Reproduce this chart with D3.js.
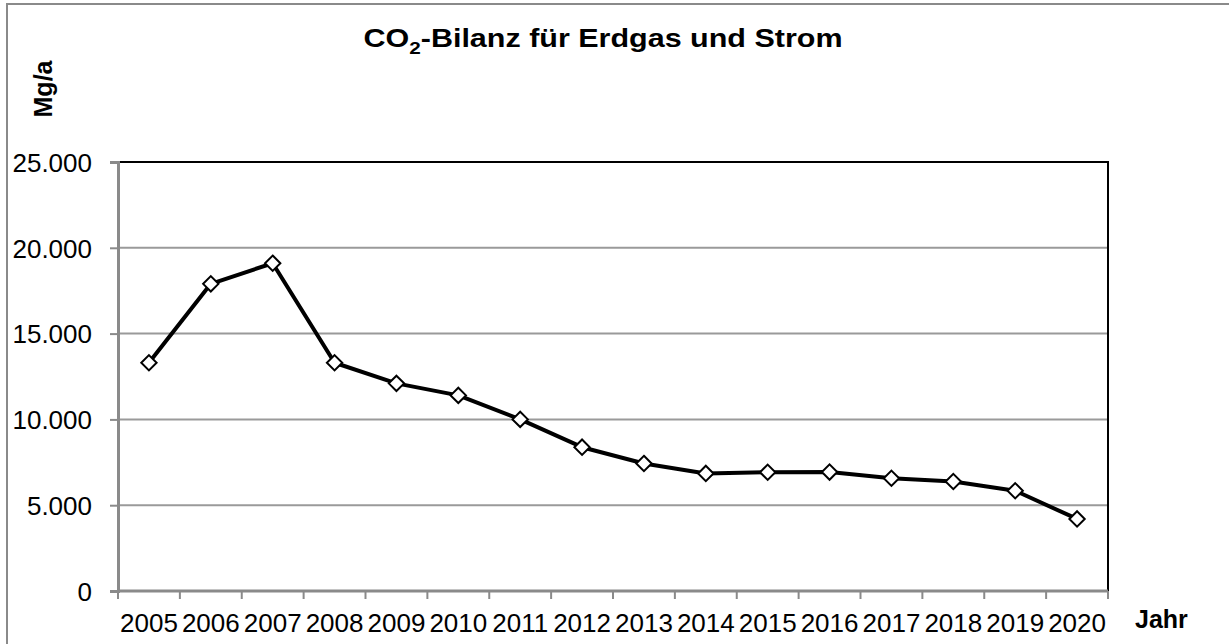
<!DOCTYPE html>
<html>
  <head>
    <meta charset="utf-8">
    <script src="https://d3js.org/d3.v7.min.js"></script>
    <title>CO2-Bilanz</title>
    <style>
      body { margin: 0px; background: #fff; }
      text { font-family: 'Liberation Sans', Arial, sans-serif; fill: #000; }
      .tick text { font-size: 26px; }
      .axis-label, .title { font-size: 25px; font-weight: bold; }
    </style>
  </head>
  <body>
    <svg width="1229" height="644"></svg>
    <script>
      const years = ['2005', '2006', '2007', '2008', '2009', '2010', '2011', '2012',
                     '2013', '2014', '2015', '2016', '2017', '2018', '2019', '2020'];
      const co2 = [13300, 17900, 19100, 13300, 12100, 11400, 10000, 8380,
                   7430, 6850, 6920, 6930, 6570, 6380, 5840, 4200];
      const yTicks = [0, 5000, 10000, 15000, 20000, 25000];

      const data = years.map((y, i) => ({ year: y, value: co2[i] }));

      const plot = { left: 118, right: 1108, top: 162, bottom: 591 };

      const svg = d3.select('svg');

      // chart frame (only top and left visible)
      svg.append('path')
          .attr('d', 'M7,650 V4 H1240')
          .attr('fill', 'none')
          .attr('stroke', '#8a8a8a')
          .attr('stroke-width', 2);

      const de = d3.formatLocale({ decimal: ',', thousands: '.', grouping: [3], currency: ['', ' €'] });

      const xScale = d3.scaleBand()
          .domain(years)
          .range([plot.left, plot.right])
          .padding(0);

      const yScale = d3.scaleLinear()
          .domain([0, 25000])
          .range([plot.bottom, plot.top]);

      // gridlines
      svg.append('g').selectAll('line')
          .data(yTicks.filter(d => d > 0 && d < 25000))
          .enter().append('line')
            .attr('x1', plot.left)
            .attr('x2', plot.right)
            .attr('y1', d => yScale(d))
            .attr('y2', d => yScale(d))
            .attr('stroke', '#9a9a9a')
            .attr('stroke-width', 2);

      // top and right border of plot area
      svg.append('path')
          .attr('d', `M${plot.left},${plot.top} H${plot.right} V${plot.bottom}`)
          .attr('fill', 'none')
          .attr('stroke', '#000')
          .attr('stroke-width', 2);

      // y axis
      const yAxis = d3.axisLeft(yScale)
          .tickValues(yTicks)
          .tickSize(8)
          .tickPadding(18)
          .tickFormat(de.format(',d'));

      const yAxisG = svg.append('g')
          .attr('transform', `translate(${plot.left},0)`)
          .call(yAxis);
      yAxisG.select('.domain').attr('stroke', '#8a8a8a').attr('stroke-width', 3);
      yAxisG.selectAll('.tick line').attr('stroke', '#8a8a8a').attr('stroke-width', 2);
      yAxisG.selectAll('.tick text').attr('dy', '0.36em');

      // x axis: ticks on category boundaries
      const xAxisG = svg.append('g')
          .attr('transform', `translate(0,${plot.bottom})`);
      xAxisG.append('line')
          .attr('x1', plot.left)
          .attr('x2', plot.right)
          .attr('stroke', '#8a8a8a')
          .attr('stroke-width', 3);
      xAxisG.selectAll('.xtick')
          .data(years.concat(['end']))
          .enter().append('line')
            .attr('class', 'xtick')
            .attr('x1', (d, i) => i < years.length ? xScale(d) : plot.right)
            .attr('x2', (d, i) => i < years.length ? xScale(d) : plot.right)
            .attr('y1', 0)
            .attr('y2', 8)
            .attr('stroke', '#8a8a8a')
            .attr('stroke-width', 2);
      xAxisG.selectAll('.xlabel')
          .data(years)
          .enter().append('text')
            .attr('class', 'xlabel')
            .attr('x', d => xScale(d) + xScale.bandwidth() / 2)
            .attr('y', 41)
            .attr('text-anchor', 'middle')
            .style('font-size', '26px')
            .text(d => d);

      // line
      const line = d3.line()
          .x(d => xScale(d.year) + xScale.bandwidth() / 2)
          .y(d => yScale(d.value));

      svg.append('path')
          .datum(data)
          .attr('d', line)
          .attr('fill', 'none')
          .attr('stroke', '#000')
          .attr('stroke-width', 4)
          .attr('stroke-linejoin', 'round');

      // diamond markers
      const diamond = d3.symbol().type(d3.symbolDiamond2).size(150);
      svg.append('g').selectAll('path')
          .data(data)
          .enter().append('path')
            .attr('d', diamond)
            .attr('transform', d => `translate(${xScale(d.year) + xScale.bandwidth() / 2},${yScale(d.value)})`)
            .attr('fill', '#fff')
            .attr('stroke', '#000')
            .attr('stroke-width', 2);

      // title (the reference is drawn wider than its height suggests)
      const title = svg.append('text')
          .attr('class', 'title')
          .attr('transform', 'translate(603,47) scale(1.22,1)')
          .attr('text-anchor', 'middle');
      title.append('tspan').text('CO');
      title.append('tspan').attr('dy', 7).style('font-size', '17px').text('2');
      title.append('tspan').attr('dy', -7).text('-Bilanz für Erdgas und Strom');

      // axis labels
      svg.append('text')
          .attr('class', 'axis-label')
          .attr('transform', 'translate(52,89) rotate(-90)')
          .attr('text-anchor', 'middle')
          .text('Mg/a');

      svg.append('text')
          .attr('class', 'axis-label')
          .attr('x', 1135)
          .attr('y', 628)
          .text('Jahr');
    </script>
  </body>
</html>
